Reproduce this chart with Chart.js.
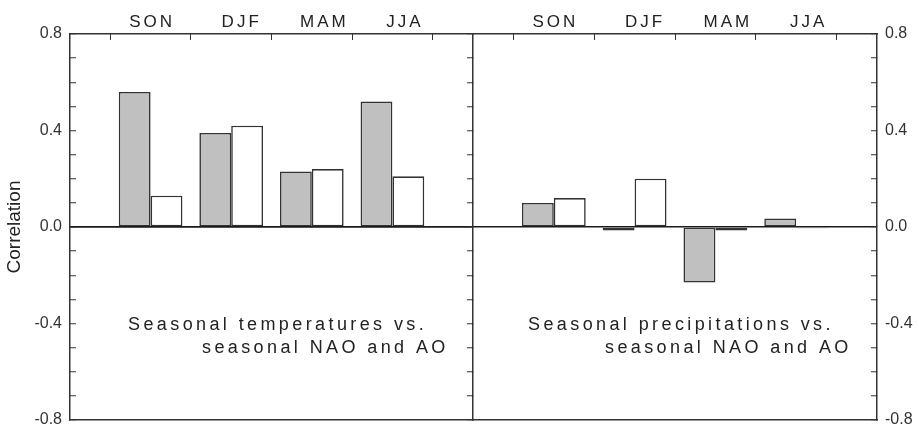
<!DOCTYPE html>
<html>
<head>
<meta charset="utf-8">
<script src="https://cdn.jsdelivr.net/npm/chart.js@4.4.1/dist/chart.umd.min.js"></script>
<style>
    html, body { margin: 0; padding: 0; background: #fff; }
    #wrap { position: relative; width: 919px; height: 427px; overflow: hidden; }
    #tempChart { position: absolute; left: 0; top: 0; }
    #precChart { position: absolute; left: 463px; top: 0; }
</style>
</head>
<body>
<div id="wrap">
    <!-- canvases run a bit past the page bottom so the frame can sit at y=420 -->
    <canvas id="tempChart" width="483" height="442"></canvas>
    <canvas id="precChart" width="456" height="442"></canvas>
</div>
<script>
// Data
var seasons = ["SON", "DJF", "MAM", "JJA"];
var naoTemp = [0.56, 0.39, 0.23, 0.52]; // grey bars, temperatures
var aoTemp = [0.13, 0.42, 0.24, 0.21]; // white bars, temperatures
var naoPrec = [0.10, -0.015, -0.23, 0.035]; // grey bars, precipitation
var aoPrec = [0.12, 0.20, -0.015, -0.005]; // white bars, precipitation
var yTickLabels = [-0.8, -0.4, 0.0, 0.4, 0.8];

var FONT = "'Liberation Sans', Arial, Helvetica, sans-serif";
var INK = "#333";

Chart.defaults.font.family = FONT;
Chart.defaults.color = INK;

// empty slot on each side so the seasons sit at 1..4 of 0..5
var xLabels = [""].concat(seasons, [""]);
var pad = function (arr) {
    return [null].concat(arr, [null]);
};

var isLabelled = function (v) {
    return yTickLabels.some(function (t) {
        return Math.abs(t - v) < 1e-9;
    });
};

var yAxis = function (position, showLabels, width) {
    return {
        position: position,
        min: yTickLabels[0],
        max: yTickLabels[yTickLabels.length - 1],
        ticks: {
            display: showLabels,
            stepSize: 0.1,
            maxTicksLimit: 20,
            padding: 14, // tick is -6, so labels sit 8px off the frame
            color: INK,
            font: { size: 16, lineHeight: 0.8 },
            callback: function (v) {
                return isLabelled(v) ? (Math.round(v * 10) / 10).toFixed(1) : "";
            },
        },
        grid: {
            drawOnChartArea: true,
            tickLength: -6, // ticks point into the plot
            tickColor: INK,
            tickWidth: 1,
            lineWidth: 1.5,
            color: function (c) {
                return c.tick && Math.abs(c.tick.value) < 1e-9 ? "#1a1a1a" : "transparent";
            },
        },
        border: { display: true, color: INK, width: 1.5 },
        afterFit: function (scale) {
            scale.width = width;
        },
    };
};

var topAxis = {
    type: "category",
    position: "top",
    offset: false,
    ticks: { display: false }, // season names are drawn by the plugin below
    grid: { drawOnChartArea: false, tickLength: -6, tickColor: INK, tickWidth: 1 },
    border: { display: true, color: INK, width: 1.5 },
    afterFit: function (scale) {
        scale.height = 34;
    },
};

var bottomAxis = {
    type: "category",
    position: "bottom",
    offset: false,
    ticks: { display: false },
    grid: { display: false },
    border: { display: true, color: INK, width: 1.5 },
    afterFit: function (scale) {
        scale.height = 0;
    },
};

// spaced lettering: season names over the ticks and the panel notes
var labelShift = [0, 9, 11, 11]; // names sit a little right of their ticks in the original
var spacedText = {
    id: "spacedText",
    afterDraw: function (chart, args, opts) {
        var ctx = chart.ctx;
        var area = chart.chartArea;
        var xScale = chart.scales.x;
        ctx.save();
        ctx.fillStyle = "#222";
        ctx.textBaseline = "middle";

        ctx.letterSpacing = "3px";
        ctx.font = "17px " + FONT;
        ctx.textAlign = "center";
        seasons.forEach(function (s, i) {
            var x = xScale.getPixelForValue(i + 1) + labelShift[i] + 1.5;
            ctx.fillText(s, x, area.top - 12);
        });

        ctx.letterSpacing = "3.4px";
        ctx.font = "18px " + FONT;
        ctx.textAlign = "left";
        var yMid = chart.scales.y.getPixelForValue(-0.4) + 2;
        ctx.fillText(opts.lines[0], area.left + opts.indent[0], yMid);
        ctx.fillText(opts.lines[1], area.left + opts.indent[1], yMid + 23);
        ctx.restore();
    },
};

var barSet = function (label, values, fill) {
    return {
        label: label,
        data: pad(values),
        backgroundColor: fill,
        borderColor: INK,
        borderWidth: 1.6,
        borderSkipped: false,
        categoryPercentage: 0.79,
        barPercentage: 1.0,
        xAxisID: "x",
        yAxisID: "y",
    };
};

// Left panel: temperatures
var tempChart = new Chart(document.getElementById("tempChart"), {
    type: "bar",
    data: {
        labels: xLabels,
        datasets: [barSet("NAO", naoTemp, "#c0c0c0"), barSet("AO", aoTemp, "#ffffff")],
    },
    options: {
        responsive: false,
        animation: false,
        layout: { padding: { left: 0, right: 10, top: 0, bottom: 22 } },
        scales: {
            x: topAxis,
            xb: bottomAxis,
            y: Object.assign(yAxis("left", true, 70), {
                title: {
                    display: true,
                    text: "Correlation",
                    color: "#222",
                    font: { size: 19 },
                    padding: { top: 3, bottom: 0 },
                },
            }),
            y2: yAxis("right", false, 0),
        },
        plugins: {
            legend: { display: false },
            tooltip: { enabled: false },
            spacedText: {
                lines: ["Seasonal temperatures vs.", "seasonal NAO and AO"],
                indent: [58, 132],
            },
        },
    },
    plugins: [spacedText],
});

// Right panel: precipitation
var precChart = new Chart(document.getElementById("precChart"), {
    type: "bar",
    data: {
        labels: xLabels,
        datasets: [barSet("NAO", naoPrec, "#c0c0c0"), barSet("AO", aoPrec, "#ffffff")],
    },
    options: {
        responsive: false,
        animation: false,
        layout: { padding: { left: 10, right: 0, top: 0, bottom: 22 } },
        scales: {
            x: topAxis,
            xb: bottomAxis,
            y: yAxis("right", true, 42),
        },
        plugins: {
            legend: { display: false },
            tooltip: { enabled: false },
            spacedText: {
                lines: ["Seasonal precipitations vs.", "seasonal NAO and AO"],
                indent: [55, 132],
            },
        },
    },
    plugins: [spacedText],
});
</script>
</body>
</html>
